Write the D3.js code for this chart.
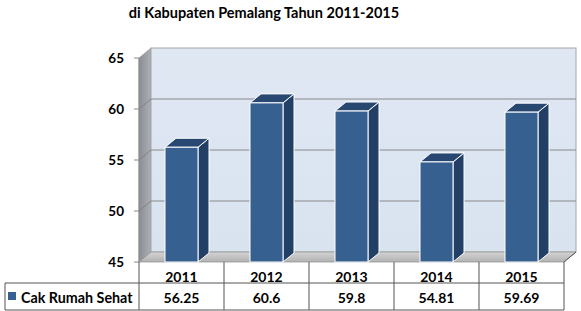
<!DOCTYPE html>
<html>
<head>
<meta charset="utf-8">
<script src="https://cdn.jsdelivr.net/npm/d3@7"></script>
<style>
  body { margin: 0; background: #fff; }
  svg text { font-family: Lato, "Open Sans", sans-serif; font-weight: bold; fill: #000; }
</style>
</head>
<body>
<div id="chart"></div>
<script>
// data
var years = ['2011', '2012', '2013', '2014', '2015'];
var values = [56.25, 60.6, 59.8, 54.81, 59.69];
var valueLabels = ['56.25', '60.6', '59.8', '54.81', '59.69'];
var yTicks = [45, 50, 55, 60, 65];
var seriesName = 'Cak Rumah Sehat';
var title = 'di Kabupaten Pemalang Tahun 2011-2015';

var W = 581, H = 311;
var left = 139, right = 564, floorY = 262;
var dx = 12, dy = -10;          // wall depth
var bdx = 11, bdy = -9;         // bar depth

var svg = d3.select('#chart').append('svg')
  .attr('width', W).attr('height', H);

var defs = svg.append('defs');
var gWall = defs.append('linearGradient').attr('id', 'backWall')
  .attr('x1', 0).attr('y1', 0).attr('x2', 0).attr('y2', 1);
gWall.append('stop').attr('offset', 0).attr('stop-color', '#dfe7f3');
gWall.append('stop').attr('offset', 1).attr('stop-color', '#d9e3f0');
var gSide = defs.append('linearGradient').attr('id', 'sideWall')
  .attr('x1', 0).attr('y1', 0).attr('x2', 1).attr('y2', 0);
gSide.append('stop').attr('offset', 0).attr('stop-color', '#8a8c94');
gSide.append('stop').attr('offset', 1).attr('stop-color', '#aeb0b8');
var gFloor = defs.append('linearGradient').attr('id', 'floor')
  .attr('x1', 0).attr('y1', 0).attr('x2', 0).attr('y2', 1);
gFloor.append('stop').attr('offset', 0).attr('stop-color', '#d3d3d3');
gFloor.append('stop').attr('offset', 1).attr('stop-color', '#b2b2b2');

var x = d3.scaleBand().domain(years).range([left, right]).paddingInner(0).paddingOuter(0);
var y = d3.scaleLinear().domain([45, 65]).range([floorY, 58]);

function pts(a) { return a.map(function(p){ return p.join(','); }).join(' '); }

// title
svg.append('text').attr('x', 264).attr('y', 18).attr('text-anchor', 'middle')
  .style('font-size', '14.5px').text(title);

// side wall
svg.append('polygon')
  .attr('points', pts([[left, y(45)], [left, y(65)], [left + dx, y(65) + dy], [left + dx, y(45) + dy]]))
  .attr('fill', 'url(#sideWall)').attr('stroke', '#9a9a9a').attr('stroke-width', 0.7);

// back wall
svg.append('rect')
  .attr('x', left + dx).attr('y', y(65) + dy)
  .attr('width', right - left).attr('height', y(45) - y(65))
  .attr('fill', 'url(#backWall)').attr('stroke', '#a6a6a6').attr('stroke-width', 1);

// floor
svg.append('polygon')
  .attr('points', pts([[left, floorY], [right, floorY], [right + dx, floorY + dy], [left + dx, floorY + dy]]))
  .attr('fill', 'url(#floor)').attr('stroke', '#8c8c8c').attr('stroke-width', 0.7);

// gridlines
var grid = svg.append('g');
yTicks.filter(function(t){ return t > 45 && t < 65; }).forEach(function(t) {
  grid.append('line')
    .attr('x1', left + dx).attr('x2', right + dx)
    .attr('y1', y(t) + dy).attr('y2', y(t) + dy)
    .attr('stroke', '#8a8a8a').attr('stroke-width', 1);
  grid.append('line')
    .attr('x1', left).attr('x2', left + dx)
    .attr('y1', y(t)).attr('y2', y(t) + dy)
    .attr('stroke', '#7a7a7a').attr('stroke-width', 0.8);
});

// y axis
var axis = svg.append('g');
axis.append('line').attr('x1', left).attr('x2', left)
  .attr('y1', y(65)).attr('y2', y(45)).attr('stroke', '#8a8a8a');
yTicks.forEach(function(t) {
  axis.append('line').attr('x1', left - 5).attr('x2', left)
    .attr('y1', y(t)).attr('y2', y(t)).attr('stroke', '#8a8a8a');
  axis.append('text').attr('x', 124).attr('y', y(t) + 5)
    .attr('text-anchor', 'end').style('font-size', '13.5px').text(t);
});

// bars
var bw = 33;
var bars = svg.append('g').selectAll('g').data(years).join('g');
bars.each(function(d, i) {
  var g = d3.select(this);
  var x0 = x(d) + (x.bandwidth() - bw) / 2, x1 = x0 + bw;
  var yt = y(values[i]), yb = floorY;
  g.append('polygon')
    .attr('points', pts([[x1, yb], [x1, yt], [x1 + bdx, yt + bdy], [x1 + bdx, yb + bdy]]))
    .attr('fill', '#223f65').attr('stroke', '#fff').attr('stroke-width', 1);
  g.append('polygon')
    .attr('points', pts([[x0, yt], [x1, yt], [x1 + bdx, yt + bdy], [x0 + bdx, yt + bdy]]))
    .attr('fill', '#284872').attr('stroke', '#fff').attr('stroke-width', 1);
  g.append('rect').attr('x', x0).attr('y', yt).attr('width', bw).attr('height', yb - yt)
    .attr('fill', '#36608f').attr('stroke', '#fff').attr('stroke-width', 1);
});

// data table
var tbl = svg.append('g');
var rowMid = 283, rowBot = 310, tblLeft = 5;
var lineColor = '#555';
tbl.append('line').attr('x1', tblLeft).attr('x2', right).attr('y1', rowMid).attr('y2', rowMid).attr('stroke', lineColor);
tbl.append('line').attr('x1', tblLeft).attr('x2', right).attr('y1', rowBot).attr('y2', rowBot).attr('stroke', lineColor);
tbl.append('line').attr('x1', tblLeft).attr('x2', tblLeft).attr('y1', rowMid).attr('y2', rowBot).attr('stroke', lineColor);
tbl.append('line').attr('x1', right).attr('x2', right + dx).attr('y1', floorY).attr('y2', floorY + dy).attr('stroke', lineColor);
years.forEach(function(d) {
  tbl.append('line').attr('x1', x(d)).attr('x2', x(d)).attr('y1', floorY).attr('y2', rowBot).attr('stroke', lineColor);
});
tbl.append('line').attr('x1', right).attr('x2', right).attr('y1', floorY).attr('y2', rowBot).attr('stroke', lineColor);

tbl.selectAll('text.year').data(years).join('text')
  .attr('x', function(d){ return x(d) + x.bandwidth() / 2; }).attr('y', 281.5)
  .attr('text-anchor', 'middle').style('font-size', '14px').text(function(d){ return d; });
tbl.selectAll('text.val').data(valueLabels).join('text')
  .attr('x', function(d, i){ return x(years[i]) + x.bandwidth() / 2; }).attr('y', 302.5)
  .attr('text-anchor', 'middle').style('font-size', '14px').text(function(d){ return d; });

tbl.append('rect').attr('x', 8).attr('y', 292).attr('width', 8).attr('height', 8).attr('fill', '#36608f');
tbl.append('text').attr('x', 21).attr('y', 302.5).style('font-size', '14.3px').text(seriesName);
</script>
</body>
</html>
